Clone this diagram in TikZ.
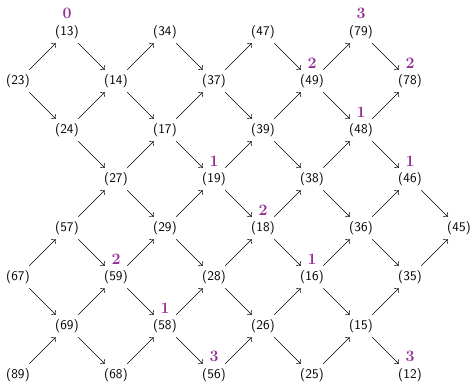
\documentclass[tikz,border=0pt]{standalone}
\usepackage{amsmath,amssymb}
\usepackage[dvipsnames]{xcolor}
\usepackage{tikz}
\usetikzlibrary{arrows.meta,positioning}
\definecolor{numpurple}{RGB}{150,45,150}
\begin{document}
\begin{tikzpicture}[x=1.3cm, y=1.3cm, every node/.style={font=\sffamily}, >=To,
  lbl/.style={font=\large\bfseries\rmfamily, text=numpurple, inner sep=0pt}]
\useasboundingbox (-0.367,0.653) rectangle (9.265,-7.163);
% row 0
\node (n13) at (1,0) {(13)};
\node (n34) at (3,0) {(34)};
\node (n47) at (5,0) {(47)};
\node (n79) at (7,0) {(79)};
% row 1
\node (n23) at (0,-1) {(23)};
\node (n14) at (2,-1) {(14)};
\node (n37) at (4,-1) {(37)};
\node (n49) at (6,-1) {(49)};
\node (n78) at (8,-1) {(78)};
% row 2
\node (n24) at (1,-2) {(24)};
\node (n17) at (3,-2) {(17)};
\node (n39) at (5,-2) {(39)};
\node (n48) at (7,-2) {(48)};
% row 3
\node (n27) at (2,-3) {(27)};
\node (n19) at (4,-3) {(19)};
\node (n38) at (6,-3) {(38)};
\node (n46) at (8,-3) {(46)};
% row 4
\node (n57) at (1,-4) {(57)};
\node (n29) at (3,-4) {(29)};
\node (n18) at (5,-4) {(18)};
\node (n36) at (7,-4) {(36)};
\node (n45) at (9,-4) {(45)};
% row 5
\node (n67) at (0,-5) {(67)};
\node (n59) at (2,-5) {(59)};
\node (n28) at (4,-5) {(28)};
\node (n16) at (6,-5) {(16)};
\node (n35) at (8,-5) {(35)};
% row 6
\node (n69) at (1,-6) {(69)};
\node (n58) at (3,-6) {(58)};
\node (n26) at (5,-6) {(26)};
\node (n15) at (7,-6) {(15)};
% row 7
\node (n89) at (0,-7) {(89)};
\node (n68) at (2,-7) {(68)};
\node (n56) at (4,-7) {(56)};
\node (n25) at (6,-7) {(25)};
\node (n12) at (8,-7) {(12)};
% purple numbers
\node[lbl, above=1pt of n13] (l13) {0};
\node[lbl, above=1pt of n79] (l79) {3};
\node[lbl, above=1pt of n49] (l49) {2};
\node[lbl, above=1pt of n78] (l78) {2};
\node[lbl, above=1pt of n48] (l48) {1};
\node[lbl, above=1pt of n46] (l46) {1};
\node[lbl, above=1pt of n19] (l19) {1};
\node[lbl, above=1pt of n18] (l18) {2};
\node[lbl, above=1pt of n16] (l16) {1};
\node[lbl, above=1pt of n59] (l59) {2};
\node[lbl, above=1pt of n58] (l58) {1};
\node[lbl, above=1pt of n56] (l56) {3};
\node[lbl, above=1pt of n12] (l12) {3};
% arrows
\draw[->] (n23) -- (n13);\draw[->] (n23) -- (n24);\draw[->] (n13) -- (n14);\draw[->] (n24) -- (n14);\draw[->] (n24) -- (n27);
\draw[->] (n14) -- (n34);\draw[->] (n14) -- (n17);\draw[->] (n34) -- (n37);\draw[->] (n17) -- (n37);\draw[->] (n17) -- (n19);
\draw[->] (n27) -- (n17);\draw[->] (n27) -- (n29);\draw[->] (n37) -- (n47);\draw[->] (n37) -- (n39);\draw[->] (n19) -- (n39);
\draw[->] (n19) -- (n18);\draw[->] (n47) -- (n49);\draw[->] (n39) -- (n49);\draw[->] (n39) -- (n38);\draw[->] (n49) -- (n79);
\draw[->] (n49) -- (n48);\draw[->] (n79) -- (n78);\draw[->] (n48) -- (n78);\draw[->] (n48) -- (n46);\draw[->] (n38) -- (n48);
\draw[->] (n38) -- (n36);\draw[->] (n46) -- (n45);\draw[->] (n36) -- (n46);\draw[->] (n36) -- (n35);\draw[->] (n35) -- (n45);
\draw[->] (n18) -- (n38);\draw[->] (n18) -- (n16);\draw[->] (n29) -- (n19);\draw[->] (n29) -- (n28);\draw[->] (n57) -- (n27);
\draw[->] (n57) -- (n59);\draw[->] (n67) -- (n57);\draw[->] (n67) -- (n69);\draw[->] (n59) -- (n29);\draw[->] (n59) -- (n58);
\draw[->] (n28) -- (n18);\draw[->] (n28) -- (n26);\draw[->] (n16) -- (n36);\draw[->] (n16) -- (n15);\draw[->] (n69) -- (n59);
\draw[->] (n69) -- (n68);\draw[->] (n58) -- (n28);\draw[->] (n58) -- (n56);\draw[->] (n26) -- (n16);\draw[->] (n26) -- (n25);
\draw[->] (n15) -- (n35);\draw[->] (n15) -- (n12);\draw[->] (n89) -- (n69);\draw[->] (n68) -- (n58);\draw[->] (n56) -- (n26);
\draw[->] (n25) -- (n15);
\end{tikzpicture}
\end{document}
